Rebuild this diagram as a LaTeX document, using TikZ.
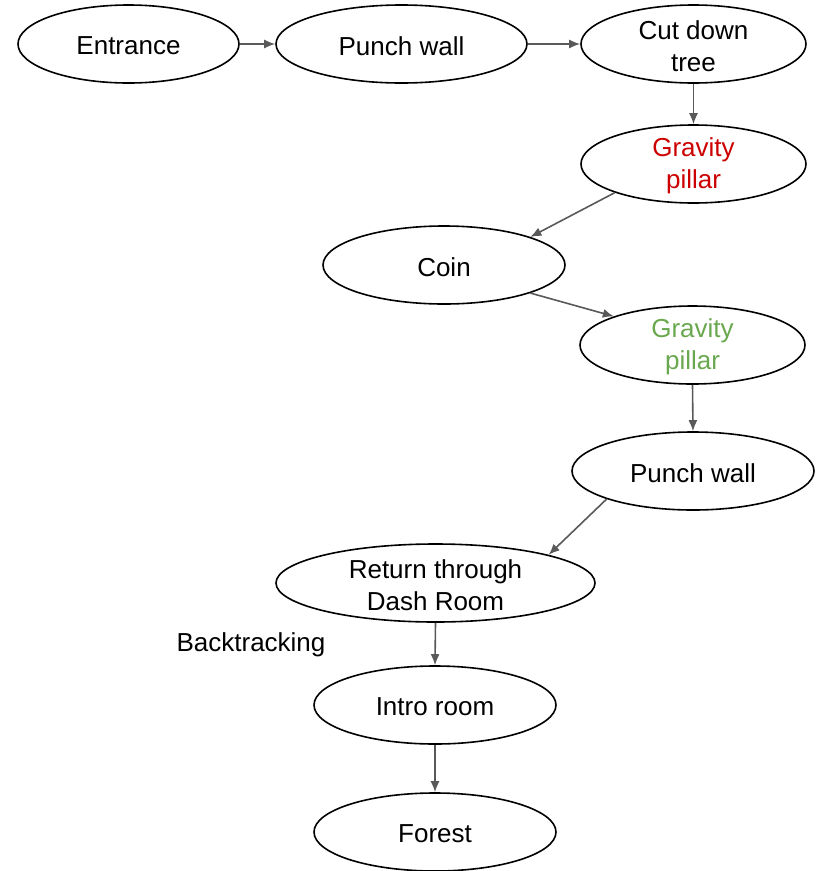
\documentclass[tikz,border=0pt]{standalone}
\usepackage{fontspec}
\setmainfont{Liberation Sans}
\usetikzlibrary{shapes.geometric,arrows.meta}
\definecolor{arr}{HTML}{595959}
\definecolor{redt}{HTML}{CC0000}
\definecolor{greent}{HTML}{6AA84F}
\begin{document}
\begin{tikzpicture}[x=1pt,y=-1pt,
  st/.style={ellipse, draw, line width=1.6pt, inner sep=0pt, minimum height=78pt},
  lb/.style={font=\fontsize{26}{32}\selectfont, align=center, yshift=-2pt},
  ar/.style={draw=arr, line width=1.6pt, -{Latex[length=11pt,width=9pt]}}]
\useasboundingbox (0,0) rectangle (825,871);
\node[st, minimum width=221pt, label={[lb]center:Entrance}] (a) at (128.5,44) {};
\node[st, minimum width=251pt, label={[lb]center:Punch wall}] (b) at (401.5,44) {};
\node[st, minimum width=225pt, label={[lb]center:Cut down\\tree}] (c) at (693.5,44) {};
\node[st, minimum width=225pt, label={[lb,text=redt]center:Gravity\\pillar}] (d) at (693.5,164) {};
\node[st, minimum width=242pt, label={[lb]center:Coin}] (e) at (444,265) {};
\node[st, minimum width=225pt, label={[lb,text=greent]center:Gravity\\pillar}] (f) at (692.5,345) {};
\node[st, minimum width=242pt, label={[lb]center:Punch wall}] (g) at (693,471) {};
\node[st, minimum width=319pt, label={[lb]center:Return through\\Dash Room}] (h) at (435.5,583) {};
\node[st, minimum width=242pt, label={[lb]center:Intro room}] (i) at (435,705) {};
\node[st, minimum width=242pt, label={[lb]center:Forest}] (j) at (435,832) {};
\node[lb] (k) at (251,643) {Backtracking};
\draw[ar] (a.east) -- (b.west);
\draw[ar] (b.east) -- (c.west);
\draw[ar] (c.south) -- (d.north);
\draw[ar] (d.200) -- (e.18);
\draw[ar] (e.-18) -- (f.160);
\draw[ar] (f.south) -- (g.north);
\draw[ar] (g.198) -- (h.14);
\draw[ar] (h.south) -- (i.north);
\draw[ar] (i.south) -- (j.north);
\end{tikzpicture}
\end{document}
